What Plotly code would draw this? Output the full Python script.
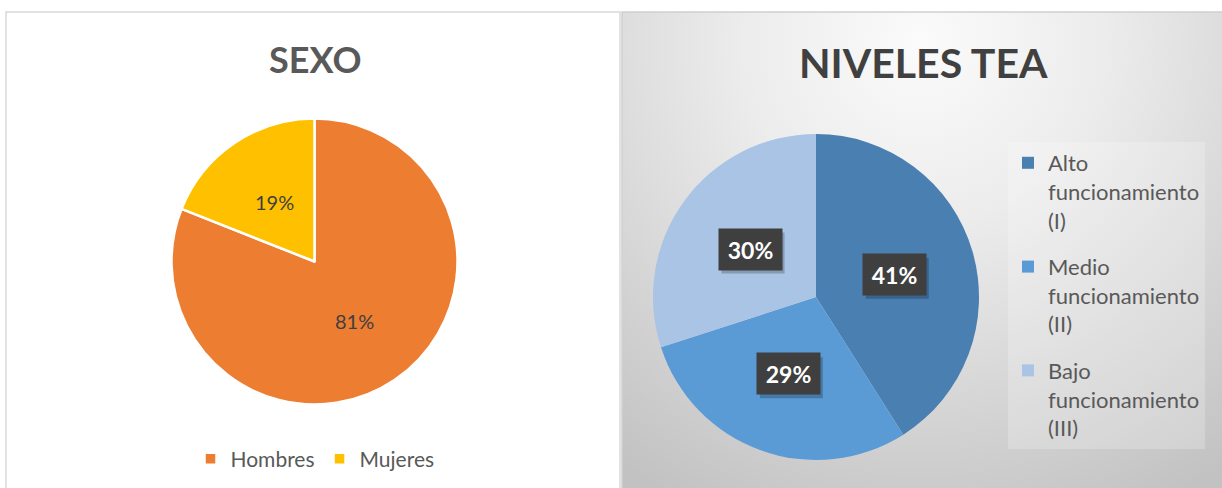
import base64
import math

import plotly.graph_objects as go

W, H = 1222, 488

# ----------------------------------------------------
# Data
# ----------------------------------------------------
sexo_labels = ["Hombres", "Mujeres"]
sexo_values = [81, 19]
sexo_colors = ["#ED7D31", "#FFC000"]

tea_labels = [
    "Alto<br>funcionamiento<br>(I)",
    "Medio<br>funcionamiento<br>(II)",
    "Bajo<br>funcionamiento<br>(III)",
]
tea_values = [41, 29, 30]
tea_colors = ["#4A7FB1", "#5B9BD5", "#A9C4E4"]

FONT = "Lato, 'Open Sans', sans-serif"


# ----------------------------------------------------
# Helpers (pixel -> paper)
# ----------------------------------------------------
def px_x(x):
    return x / W


def px_y(y):
    return 1 - y / H


def pie_domain(cx, cy, r):
    return dict(x=[px_x(cx - r), px_x(cx + r)], y=[px_y(cy + r), px_y(cy - r)])


def label_points(values, cx, cy, r, frac=0.5):
    # slices start at 12 o'clock and run clockwise
    total = sum(values)
    pts = []
    acc = 0
    for v in values:
        mid = (acc + v / 2) / total * 2 * math.pi
        acc += v
        pts.append((cx + frac * r * math.sin(mid), cy - frac * r * math.cos(mid),
                    round(v / total * 100)))
    return pts


def text_note(text, x, y, size, color, **kw):
    return dict(
        text=text, x=px_x(x), y=px_y(y), xref="paper", yref="paper",
        xanchor="center", yanchor="middle", showarrow=False,
        font=dict(family=FONT, size=size, color=color), **kw,
    )


# pie geometry in pixels
L_CX, L_CY, L_R = 314.5, 261.5, 143
R_CX, R_CY, R_R = 816, 297, 163
BOX_W, BOX_H = 63, 41

fig = go.Figure()

fig.add_trace(go.Pie(
    labels=sexo_labels,
    values=sexo_values,
    marker=dict(colors=sexo_colors, line=dict(color="white", width=2.5)),
    sort=False,
    direction="clockwise",
    rotation=0,
    textinfo="none",
    domain=pie_domain(L_CX, L_CY, L_R),
    legend="legend",
))

fig.add_trace(go.Pie(
    labels=tea_labels,
    values=tea_values,
    marker=dict(colors=tea_colors, line=dict(width=0)),
    sort=False,
    direction="clockwise",
    rotation=0,
    textinfo="none",
    domain=pie_domain(R_CX, R_CY, R_R),
    showlegend=False,
))

# legend entries for the right pie (one group each so the gap can be set)
for lab, col in zip(tea_labels, tea_colors):
    fig.add_trace(go.Scatter(
        x=[None], y=[None], mode="markers", name=lab,
        marker=dict(symbol="square", size=14, color=col),
        legendgroup=lab, legend="legend2",
    ))

annotations = [
    text_note("<b>SEXO</b>", 315, 59, 36, "#595959"),
    text_note("<b>NIVELES TEA</b>", 923, 63, 41, "#404040"),
]

# left pie labels
for x, y, p in label_points(sexo_values, L_CX, L_CY, L_R):
    annotations.append(text_note(f"{p}%", x, y, 20, "#404040"))

shapes = [
    dict(type="rect", xref="paper", yref="paper",
         x0=px_x(6), x1=px_x(620), y0=px_y(490), y1=px_y(12),
         line=dict(color="#D9D9D9", width=1.5), fillcolor="rgba(0,0,0,0)", layer="below"),
    dict(type="rect", xref="paper", yref="paper",
         x0=px_x(622), x1=px_x(1224), y0=px_y(490), y1=px_y(12),
         line=dict(color="#CFCFCF", width=1.5), fillcolor="rgba(0,0,0,0)", layer="below"),
]

# right pie labels: dark boxes with a soft shadow
for x, y, p in label_points(tea_values, R_CX, R_CY, R_R):
    sx, sy = x + 3, y + 4
    shapes.append(dict(
        type="rect", xref="paper", yref="paper",
        x0=px_x(sx - BOX_W / 2), x1=px_x(sx + BOX_W / 2),
        y0=px_y(sy + BOX_H / 2), y1=px_y(sy - BOX_H / 2),
        line=dict(width=0), fillcolor="rgba(0,0,0,0.22)", layer="above",
    ))
    annotations.append(text_note(f"<b>{p}%</b>", x, y, 23, "white",
                                 width=BOX_W - 12, height=BOX_H - 12, borderpad=6,
                                 bgcolor="#3F3F3F"))

# right panel background gradient
svg = (
    '<svg xmlns="http://www.w3.org/2000/svg" width="600" height="476">'
    '<defs><radialGradient id="g" gradientUnits="userSpaceOnUse" cx="300" cy="30" r="520">'
    '<stop offset="0" stop-color="#fbfbfb"/><stop offset="0.35" stop-color="#ececec"/>'
    '<stop offset="1" stop-color="#c2c2c2"/></radialGradient></defs>'
    '<rect width="600" height="476" fill="url(#g)"/></svg>'
)
svg_uri = "data:image/svg+xml;base64," + base64.b64encode(svg.encode()).decode()

fig.update_layout(
    width=W,
    height=H,
    margin=dict(l=0, r=0, t=0, b=0),
    paper_bgcolor="white",
    plot_bgcolor="rgba(0,0,0,0)",
    font=dict(family=FONT, color="#595959"),
    xaxis=dict(visible=False),
    yaxis=dict(visible=False),
    annotations=annotations,
    shapes=shapes,
    images=[dict(
        source=svg_uri, xref="paper", yref="paper",
        x=px_x(622), y=px_y(12), sizex=px_x(1222) - px_x(622), sizey=476 / H,
        sizing="stretch", layer="below", xanchor="left", yanchor="top",
    )],
    legend=dict(
        orientation="h", x=px_x(315), xanchor="center", y=px_y(459), yanchor="middle",
        font=dict(family=FONT, size=21, color="#595959"), bgcolor="rgba(0,0,0,0)",
    ),
    legend2=dict(
        orientation="v", x=px_x(1008), xanchor="left", y=px_y(142), yanchor="top",
        font=dict(family=FONT, size=22, color="#595959"), bgcolor="rgba(255,255,255,0.22)",
        valign="top", tracegroupgap=15, itemsizing="constant",
    ),
)

fig.write_html("out.html", config={"displayModeBar": False},
               post_script="document.body.style.margin='0';")
